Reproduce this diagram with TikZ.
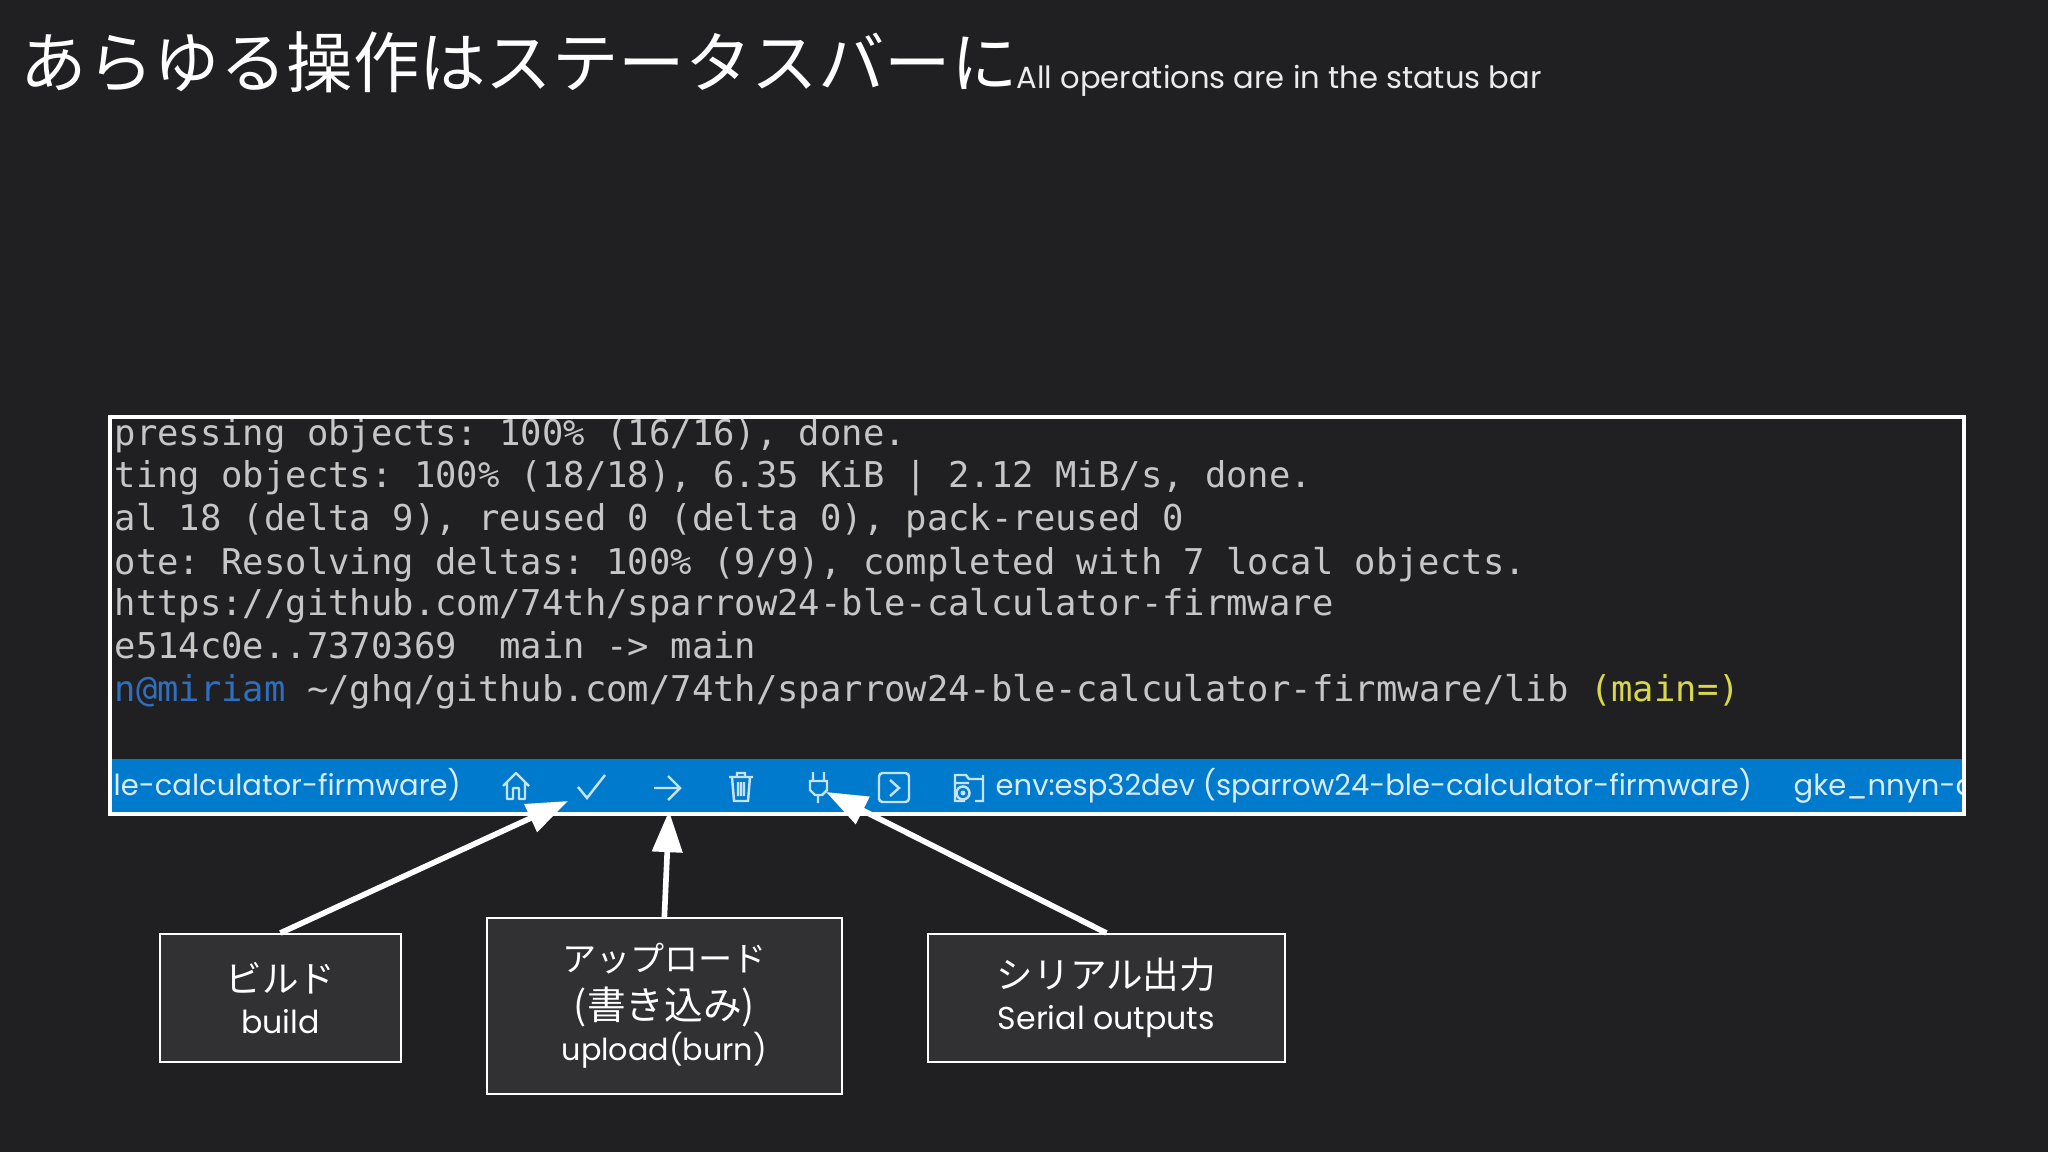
\documentclass[tikz,border=0pt]{standalone}
\usepackage{fontspec}
\setmainfont{Poppins}
\setmonofont{DejaVu Sans Mono}
\newfontfamily\jpfont{Noto Sans CJK JP}
\usetikzlibrary{arrows.meta}
\definecolor{bgdark}{HTML}{202022}
\definecolor{boxdark}{HTML}{313134}
\definecolor{barblue}{HTML}{007ACC}
\definecolor{termgray}{HTML}{C6C6C6}
\definecolor{termblue}{HTML}{2F6FBF}
\definecolor{termyellow}{HTML}{D8D84A}
\tikzset{
  x=0.01cm,y=-0.01cm,
  termline/.style={anchor=base west,inner sep=0pt,text=termgray,font=\ttfamily\fontsize{10.1}{12}\selectfont},
  barlabel/.style={anchor=base west,inner sep=0pt,text=white!85!barblue,font=\fontsize{8.25}{10}\selectfont},
  callout/.style={draw=white,line width=0.5pt,fill=boxdark,text=white,align=center,inner sep=0pt,anchor=north west},
  pointer/.style={draw=white,line width=1.6pt,-{Triangle[length=11.7pt,width=8.4pt]}},
  iconline/.style={draw=white!78!barblue,line width=0.7pt},
}
\newcommand{\jplabel}[2][10.4]{{\jpfont\fontsize{#1}{15}\selectfont #2}}
\newcommand{\enlabel}[2][9]{{\fontsize{#1}{12}\selectfont #2}}
\begin{document}
\begin{tikzpicture}
\useasboundingbox[fill=bgdark] (0,0) rectangle (2048,1152);
% title
\node[anchor=west,inner sep=0pt,text=white,font=\jpfont\fontsize{18.9}{24}\selectfont] (title) at (20,62) {あらゆる操作はステータスバーに};
\node[anchor=west,inner sep=0pt,text=white!92!black,font=\fontsize{8.7}{11}\selectfont] (subtitle) at (1016,81) {All operations are in the status bar};
% terminal
\begin{scope}
\clip (110,419) rectangle (1963,814);
\fill[barblue] (110,759) rectangle (1963,814);
\node[termline] (line1) at (114,446) {pressing objects: 100\% (16/16), done.};
\node[termline] (line2) at (114,488) {ting objects: 100\% (18/18), 6.35 KiB | 2.12 MiB/s, done.};
\node[termline] (line3) at (114,531) {al 18 (delta 9), reused 0 (delta 0), pack-reused 0};
\node[termline] (line4) at (114,574) {ote: Resolving deltas: 100\% (9/9), completed with 7 local objects.};
\node[termline] (line5) at (114,616) {https://github.com/74th/sparrow24-ble-calculator-firmware};
\node[termline] (line6) at (114,659) {e514c0e..7370369\ \ main -> main};
\node[termline] (line7) at (114,701) {\textcolor{termblue}{n@miriam} \char"007E/ghq/github.com/74th/sparrow24-ble-calculator-firmware/lib \textcolor{termyellow}{(main=)}};
\node[barlabel] (barleft) at (113,795) {le-calculator-firmware)};
\node[barlabel] (barenv) at (995,795) {env:esp32dev (sparrow24-ble-calculator-firmware)};
\node[barlabel] (barright) at (1793,795) {gke\_nnyn-d};
\end{scope}
\draw[white,line width=0.9pt] (110,417) rectangle (1964,814);
% status bar icons
\draw[iconline,line join=round] (503,786) -- (516,773) -- (529,786) (507,782) -- (507,799) -- (513,799) -- (513,788) -- (519,788) -- (519,799) -- (525,799) -- (525,782);
\draw[iconline] (578,787) -- (587,798) -- (605,775);
\draw[iconline] (654,788) -- (680,788) (668,776) -- (680,788) -- (668,800);
\draw[iconline] (729,777) -- (753,777) (737,777) -- (737,773) -- (745,773) -- (745,777) (732,777) -- (734,801) -- (748,801) -- (750,777) (738,782) -- (738,796) (741,782) -- (741,796) (744,782) -- (744,796);
\draw[iconline] (813,772) -- (813,781) (824,772) -- (824,781) (810,781) -- (827,781) -- (827,790) -- (822,795) -- (815,795) -- (810,790) -- cycle (818,795) -- (818,803);
\draw[iconline,rounded corners=1pt] (879,773) rectangle (909,802);
\draw[iconline] (890,780) -- (899,788) -- (890,796);
\draw[iconline] (965,801) -- (955,801) -- (955,775) -- (966,775) -- (969,779) -- (983,779) (956,783) -- (969,783) (983,775) -- (983,801) -- (975,801);
\draw[iconline] (963,793) circle (6.5);
\fill[white!78!barblue] (963,793) circle (2.5);
% callouts
\node[callout,minimum width=241*0.01cm,minimum height=128*0.01cm] (build) at (159,933) {\jplabel{ビルド}\\[-0.25pt] \enlabel{build}};
\node[callout,minimum width=355*0.01cm,minimum height=176*0.01cm] (upload) at (486,917) {\jplabel[9.7]{アップロード}\\[1.6pt] \jplabel[11]{(書き込み)}\\[-0.25pt] \enlabel[8.6]{upload(burn)}};
\node[callout,minimum width=357*0.01cm,minimum height=128*0.01cm] (serial) at (927,933) {\jplabel{シリアル出力}\\[-0.4pt] \enlabel{Serial outputs}};
\coordinate (buildtip) at (568,801);
\coordinate (uploadtip) at (669,811);
\coordinate (serialtip) at (826,792);
\draw[pointer] (build.north) -- (buildtip);
\draw[pointer] (upload.north) -- (uploadtip);
\draw[pointer] (serial.north) -- (serialtip);
\end{tikzpicture}
\end{document}
